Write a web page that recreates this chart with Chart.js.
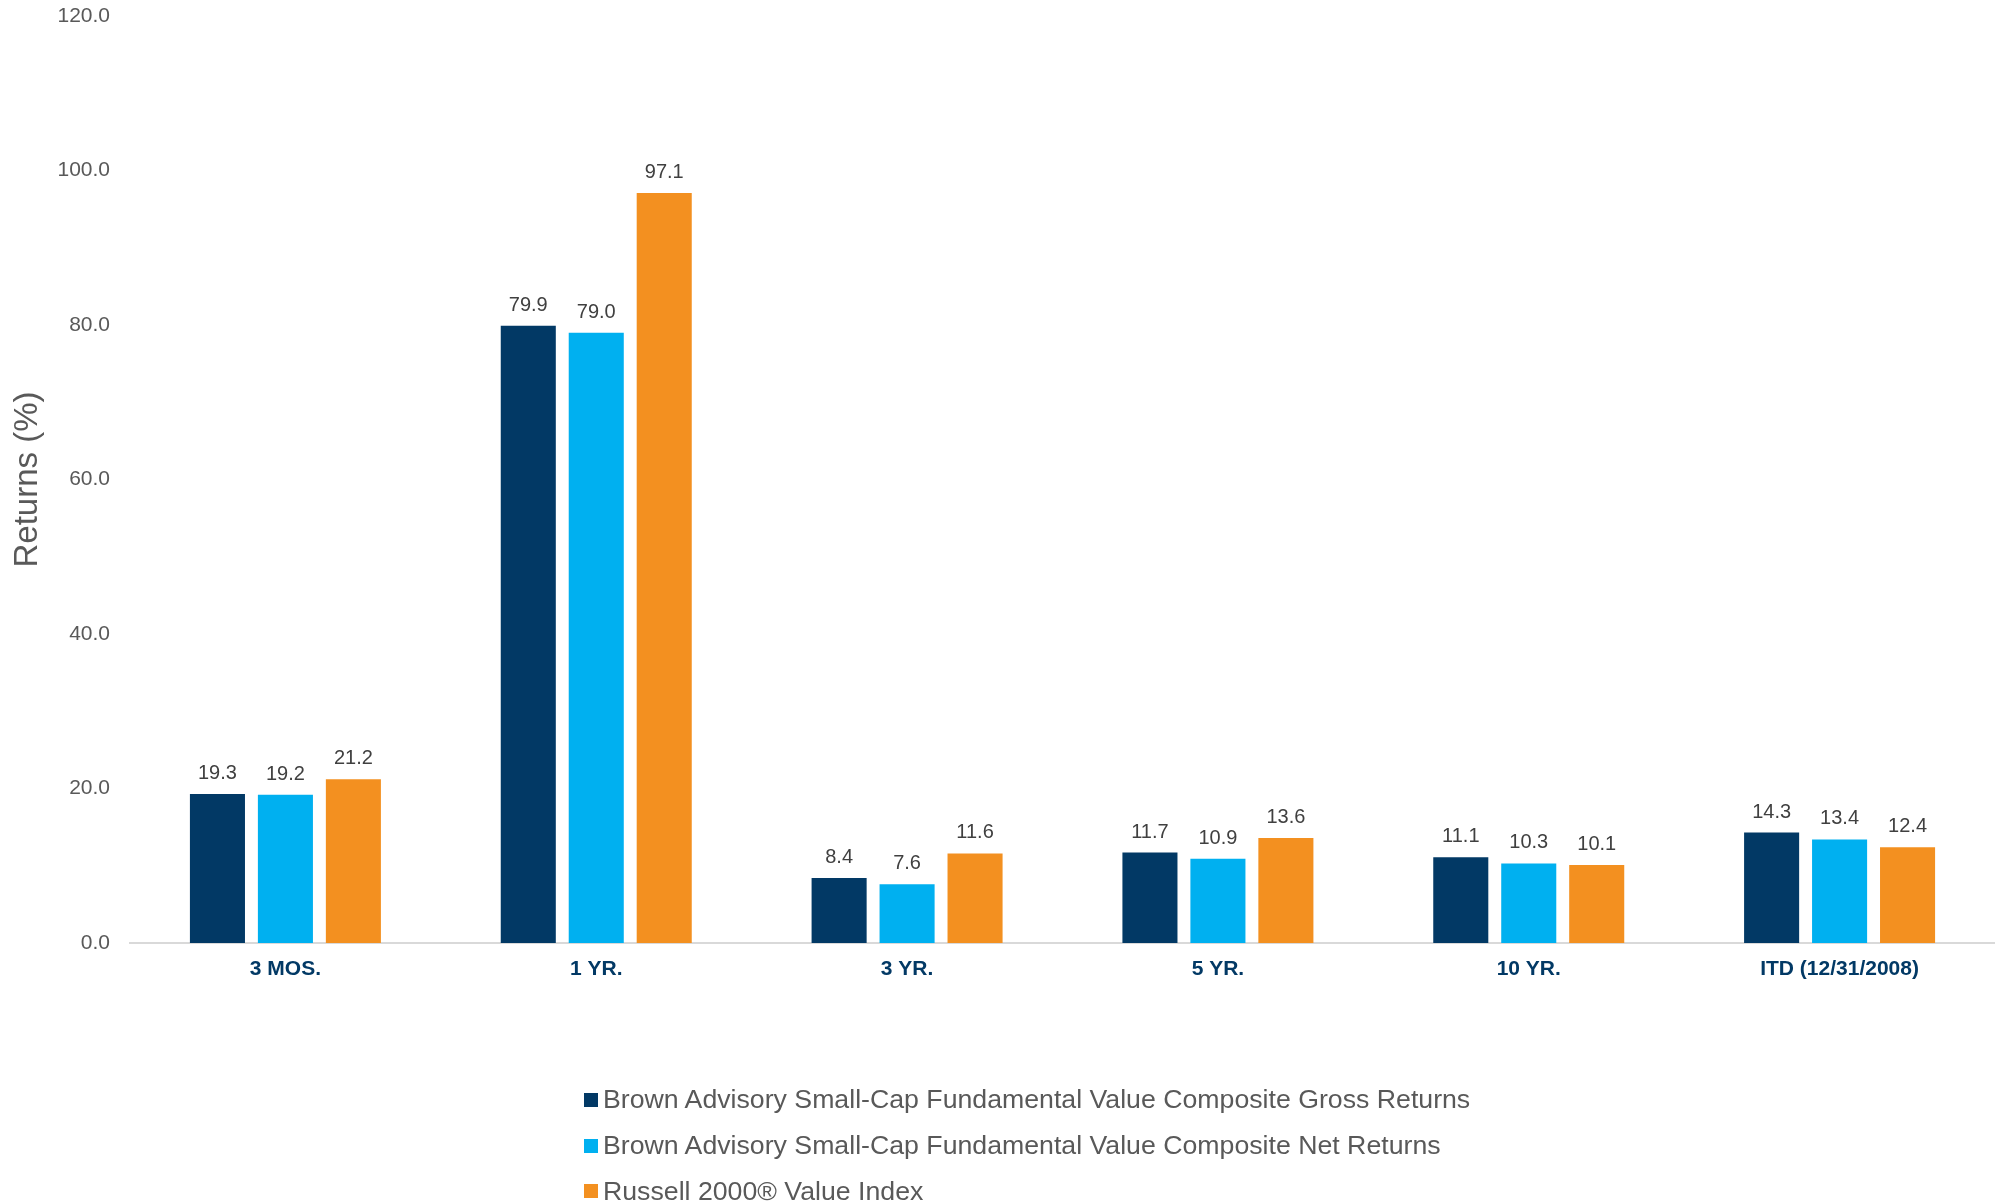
<!DOCTYPE html>
<html><head><meta charset="utf-8">
<script src="https://cdn.jsdelivr.net/npm/chart.js"></script>
<style>
html,body{margin:0;padding:0;background:#fff;}
#wrap{position:relative;width:1995px;height:1202px;overflow:hidden;}
#legend{position:absolute;left:584px;top:1077px;font-family:"Liberation Sans",Arial,sans-serif;font-size:26.7px;color:#595959;}
.item{display:flex;align-items:center;height:45.8px;white-space:nowrap;}
.sw{width:14px;height:14px;margin-right:5px;flex:none;}
</style></head>
<body><div id="wrap"><canvas id="c" width="1995" height="1202"></canvas><div id="legend"></div></div>
<script>
const categories = ["3 MOS.", "1 YR.", "3 YR.", "5 YR.", "10 YR.", "ITD (12/31/2008)"];
const grossReturns = [19.3, 79.9, 8.4, 11.7, 11.1, 14.3];
const netReturns = [19.2, 79.0, 7.6, 10.9, 10.3, 13.4];
const indexReturns = [21.2, 97.1, 11.6, 13.6, 10.1, 12.4];
const seriesNames = [
  "Brown Advisory Small-Cap Fundamental Value Composite Gross Returns",
  "Brown Advisory Small-Cap Fundamental Value Composite Net Returns",
  "Russell 2000\u00AE Value Index"
];
const seriesColors = ["#023965", "#00B0F0", "#F39020"];
const yMin = 0, yMax = 120, yStep = 20;

Chart.defaults.font.family = '"Liberation Sans", Arial, sans-serif';

const valueLabels = {
  id: 'valueLabels',
  afterDatasetsDraw(chart) {
    const ctx = chart.ctx;
    ctx.save();
    ctx.font = '20px "Liberation Sans", Arial, sans-serif';
    ctx.fillStyle = '#404040';
    ctx.textAlign = 'center';
    ctx.textBaseline = 'alphabetic';
    chart.data.datasets.forEach((ds, i) => {
      const meta = chart.getDatasetMeta(i);
      meta.data.forEach((bar, j) => {
        ctx.fillText(ds.data[j].toFixed(1), bar.x, bar.y - 15);
      });
    });
    ctx.restore();
  }
};

const datasets = [grossReturns, netReturns, indexReturns].map((d, i) => ({
  label: seriesNames[i],
  data: d,
  backgroundColor: seriesColors[i],
  borderWidth: 0,
  categoryPercentage: 0.656,
  barPercentage: 0.81
}));

const chart = new Chart(document.getElementById('c'), {
  type: 'bar',
  data: { labels: categories, datasets },
  options: {
    responsive: false,
    animation: false,
    layout: { padding: { top: 0, right: 0, left: 0, bottom: 0 } },
    plugins: { legend: { display: false }, tooltip: { enabled: false } },
    scales: {
      x: {
        grid: { display: false, drawTicks: false },
        border: { display: true, color: '#D9D9D9', width: 2 },
        ticks: { color: '#023965', font: { size: 21, weight: 'bold' }, padding: 14 },
        afterFit(s) { s.height = 259; }
      },
      y: {
        min: yMin, max: yMax,
        grid: { display: false, drawTicks: false },
        border: { display: false },
        ticks: { stepSize: yStep, color: '#595959', font: { size: 21 }, padding: 20,
                 callback: v => Number(v).toFixed(1) },
        title: { display: true, text: 'Returns (%)', color: '#595959', font: { size: 33 }, padding: { top: 8, bottom: 0 } },
        afterFit(s) { s.width = 130; s.paddingTop = 16; }
      }
    }
  },
  plugins: [valueLabels]
});

const leg = document.getElementById('legend');
chart.data.datasets.forEach(ds => {
  const it = document.createElement('div'); it.className = 'item';
  const sw = document.createElement('span'); sw.className = 'sw'; sw.style.background = ds.backgroundColor;
  const tx = document.createElement('span'); tx.textContent = ds.label;
  it.appendChild(sw); it.appendChild(tx); leg.appendChild(it);
});
</script>
</body></html>
